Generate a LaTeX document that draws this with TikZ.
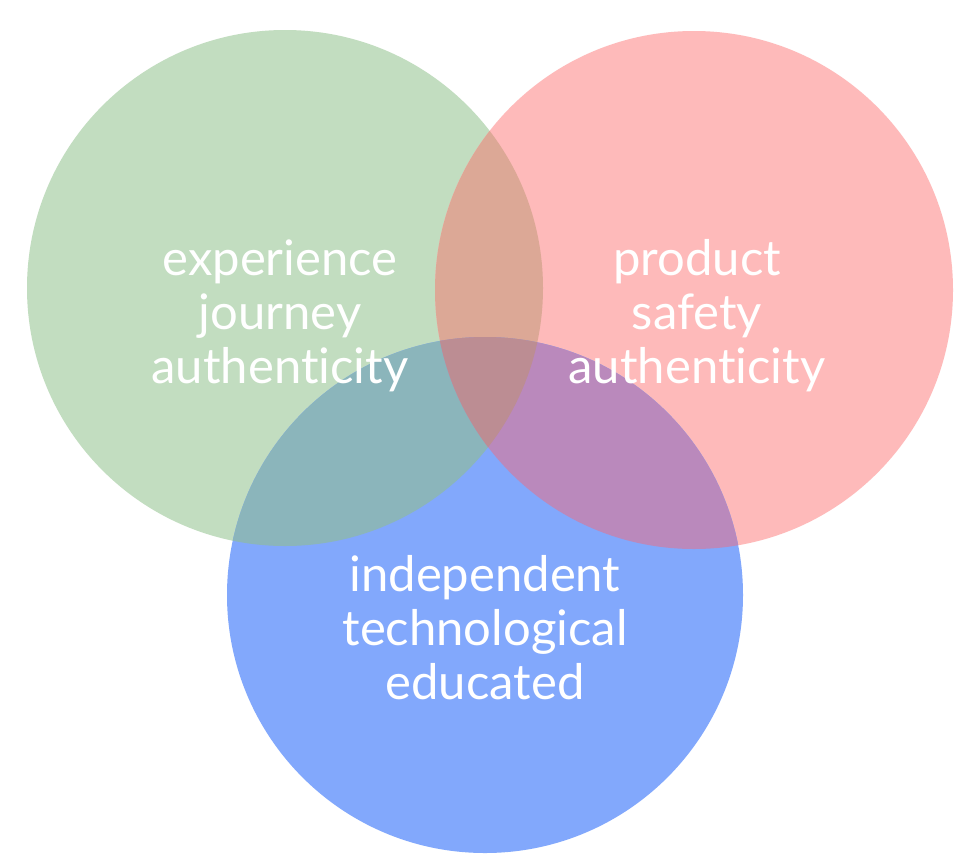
\documentclass[tikz,border=0pt]{standalone}
\usepackage{fontspec}
\setmainfont[Ligatures=NoCommon]{Lato}
\definecolor{vgreen}{HTML}{C2DDC0}
\definecolor{vpink}{HTML}{FEBABA}
\definecolor{vblue}{HTML}{82A8FC}
\definecolor{vgp}{HTML}{DCA896}
\definecolor{vgb}{HTML}{8BB5BB}
\definecolor{vpb}{HTML}{BA89BC}
\definecolor{vall}{HTML}{BC8D93}
\tikzset{
  lbl/.style={text=white, align=center, inner sep=0pt, font=\fontsize{49}{54}\selectfont}
}
\begin{document}
\begin{tikzpicture}[x=1pt,y=-1pt]
	\fill[white] (0,0) rectangle (980,860);
	\useasboundingbox (0,0) rectangle (980,860);
	% centres of the circles
	\coordinate (G) at (285,288);
	\coordinate (P) at (694,290);
	\coordinate (B) at (485,595);
	% the three circles
	\fill[vgreen] (G) circle (258);
	\fill[vpink] (P) circle (259);
	\fill[vblue] (B) circle (258);
	% overlaps of two circles
	\begin{scope}
	\clip (G) circle (258);
	\fill[vgp] (P) circle (259);
	\fill[vgb] (B) circle (258);
	\end{scope}
	\begin{scope}
	\clip (P) circle (259);
	\fill[vpb] (B) circle (258);
	\end{scope}
	% middle part
	\begin{scope}
	\clip (G) circle (258);
	\clip (P) circle (259);
	\fill[vall] (B) circle (258);
	\end{scope}
	% labels
	\node[lbl] (green text) at (280,316) {experience\\journey\\authenticity};
	\node[lbl] (pink text) at (697,316) {product\\safety\\authenticity};
	\node[lbl] (blue text) at (485,628) {independent\\technological\\educated};
\end{tikzpicture}
\end{document}
